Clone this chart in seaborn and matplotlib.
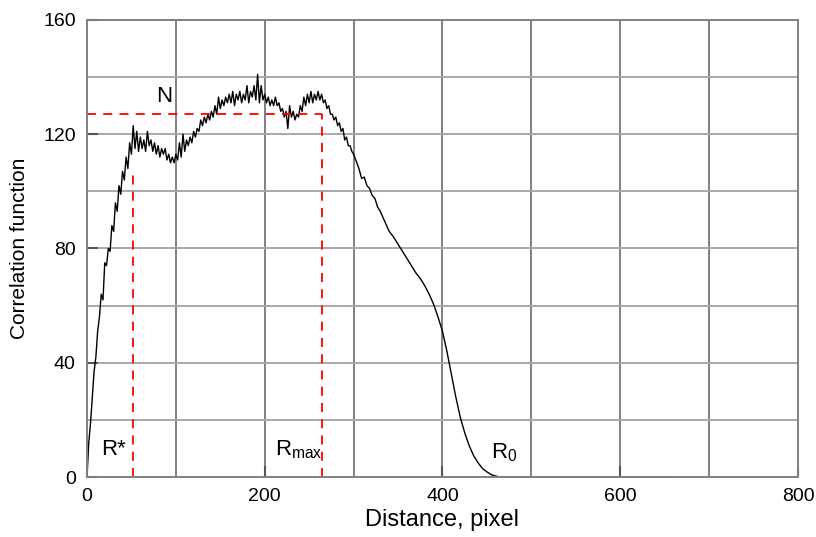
import numpy as np
import pandas as pd
import matplotlib
matplotlib.use("Agg")
import matplotlib.pyplot as plt
import seaborn as sns

# noisy part of the correlation curve, every 2 pixels from 0 to 300
x_noisy = list(range(0, 302, 2))
y_noisy = [0, 12, 19, 28, 37, 42, 51, 56, 64, 62,
           75, 74, 80, 79, 88, 86, 96, 93, 102, 99,
           107, 104, 112, 108, 117, 113, 123, 115, 121, 114,
           119, 115, 118, 114, 121, 116, 118, 114, 117, 113,
           116, 112, 115, 113, 115, 111, 113, 110, 112, 110,
           113, 111, 117, 112, 120, 114, 118, 116, 119, 117,
           121, 119, 122, 121, 125, 123, 126, 124, 127, 125,
           128, 126, 130, 127, 133, 129, 132, 130, 133, 131,
           134, 131, 135, 130, 134, 132, 135, 131, 134, 132,
           137, 131, 135, 133, 137, 132, 141, 131, 137, 132,
           134, 131, 133, 130, 132, 130, 133, 130, 131, 128,
           129, 126, 128, 122, 130, 126, 128, 125, 127, 126,
           130, 128, 133, 130, 134, 131, 135, 131, 134, 132,
           135, 132, 134, 131, 132, 129, 130, 127, 127, 125,
           126, 123, 124, 121, 122, 118, 119, 116, 116, 114,
           113]

# smoother tail
x_tail = [303, 306, 309, 312, 315, 318, 321, 324, 327, 330,
          335, 340, 345, 350, 355, 360, 365, 370, 375, 380,
          385, 390, 395, 400, 405, 410, 415, 420, 425, 430,
          435, 440, 445, 450, 455, 460, 465, 656]
y_tail = [110.5, 108, 104.5, 105, 102, 101, 98.5, 97.5, 94.5, 93,
          89.5, 86, 84, 81.5, 79, 76.5, 74, 71.5, 69.5, 67,
          64, 60.5, 56, 51, 44, 36, 28, 21, 15.5, 11,
          7.5, 5, 3, 1.8, 0.8, 0.3, 0, 0]

# marker lines
n_level = 127
r_star = 52
r_star_top = 106
r_max = 265

df = pd.DataFrame({"distance": x_noisy + x_tail, "corr": y_noisy + y_tail})

plt.rcParams["font.family"] = ["Liberation Sans", "DejaVu Sans"]
plt.rcParams["mathtext.fontset"] = "custom"
plt.rcParams["mathtext.rm"] = "Liberation Sans"
plt.rcParams["mathtext.it"] = "Liberation Sans"

fig = plt.figure(figsize=(8.16, 5.37), dpi=100)
ax = fig.add_axes([0.1066, 0.1117, 0.8713, 0.8511])

# grid
for gx in range(100, 800, 100):
    ax.axvline(gx, color="#808080", lw=1.4, zorder=0)
for gy in range(20, 160, 20):
    ax.axhline(gy, color="#a8a8a8", lw=1.4, zorder=0)

sns.lineplot(data=df, x="distance", y="corr", ax=ax, color="black",
             lw=1.0, estimator=None, sort=False)

ax.plot([0, r_max], [n_level, n_level], color="red", ls=(0, (5, 4)), lw=1.3)
ax.plot([r_star, r_star], [0, r_star_top], color="red", ls=(0, (5, 4)), lw=1.3)
ax.plot([r_max, r_max], [0, n_level], color="red", ls=(0, (5, 4)), lw=1.3)

ax.text(78, 131.4, "N", fontsize=16, ha="left", va="baseline")
ax.text(15.5, 7.7, "R*", fontsize=16, ha="left", va="baseline")
ax.text(211, 7.7, r"R$_{\rm max}$", fontsize=16, ha="left", va="baseline")
ax.text(455, 6.6, r"R$_{\rm 0}$", fontsize=16, ha="left", va="baseline")

ax.set_xlim(0, 800)
ax.set_ylim(0, 160)
ax.set_xticks([0, 200, 400, 600, 800])
ax.set_yticks([0, 40, 80, 120, 160])
ax.tick_params(direction="in", length=8, width=1.5, color="#555555",
               labelsize=14, pad=8)
for s in ax.spines.values():
    s.set_color("#808080")
    s.set_linewidth(1.4)

ax.set_xlabel("Distance, pixel", fontsize=17, labelpad=3)
ax.set_ylabel("Correlation function", fontsize=15, labelpad=10)

fig.savefig("out.png", dpi=100)
